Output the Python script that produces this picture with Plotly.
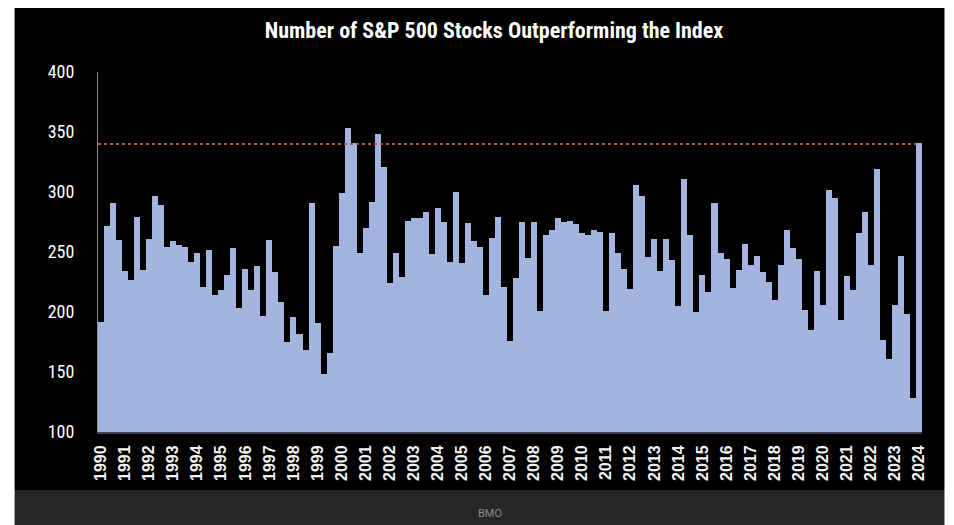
import plotly.graph_objects as go

start_year = 1990
end_year = 2024
# Quarterly count of S&P 500 stocks outperforming the index (1990 Q1 .. 2024 Q1)
values = [
    192, 272, 291, 260, 234, 227, 279, 235, 261, 297, 289, 254,
    259, 256, 254, 242, 249, 221, 252, 214, 218, 231, 253, 203,
    236, 218, 238, 197, 260, 233, 208, 175, 196, 182, 168, 291,
    191, 148, 166, 255, 299, 353, 341, 249, 270, 292, 348, 321,
    224, 249, 229, 276, 278, 278, 283, 248, 287, 275, 242, 300,
    241, 274, 259, 254, 214, 262, 279, 221, 176, 228, 275, 245,
    275, 201, 264, 268, 278, 275, 276, 273, 266, 264, 268, 267,
    201, 266, 249, 236, 219, 306, 297, 246, 261, 234, 261, 243,
    205, 311, 264, 200, 231, 217, 291, 249, 244, 220, 235, 257,
    239, 247, 233, 225, 210, 239, 268, 253, 244, 202, 185, 234,
    206, 302, 295, 193, 230, 218, 266, 283, 239, 319, 177, 161,
    206, 247, 198, 128, 341,
]
reference_level = 340
y_ticks = [100, 150, 200, 250, 300, 350, 400]
year_labels = [str(y) for y in range(start_year, end_year + 1)]

categories = [f"{start_year + i // 4} Q{i % 4 + 1}" for i in range(len(values))]
tick_cats = [f"{y} Q1" for y in year_labels]

# page is 954x525; the browser puts the figure 8px in from the top-left
OFF = 8
W, H = 954 - OFF, 525 - OFF
# plot area in page pixels
PL, PR, PT, PB = 97.5, 922.5, 72, 432
ML, MR, MT, MB = PL - OFF, W - (PR - OFF), PT - OFF, H - (PB - OFF)
pw = W - ML - MR
ph = H - MT - MB

def px_x(x):
    return (x - OFF - ML) / pw

def px_y(y):
    return (H - MB - (y - OFF)) / ph

BAR = "#a3b4de"
FONT = "Liberation Sans Narrow, Roboto Condensed, DejaVu Sans Condensed, Arial Narrow, sans-serif"

fig = go.Figure()
fig.add_trace(go.Bar(
    x=categories, y=values,
    marker=dict(color=BAR, line=dict(width=0)),
    hoverinfo="x+y",
))

shapes = [
    dict(type="rect", xref="paper", yref="paper", layer="below",
         x0=px_x(14), x1=px_x(945), y0=px_y(490), y1=px_y(8),
         fillcolor="#000000", line=dict(width=0)),
    dict(type="rect", xref="paper", yref="paper", layer="below",
         x0=px_x(14), x1=px_x(945), y0=px_y(526), y1=px_y(490),
         fillcolor="#262626", line=dict(width=0)),
    dict(type="line", xref="paper", yref="y", layer="above",
         x0=0, x1=px_x(917), y0=reference_level, y1=reference_level,
         line=dict(color="#b8553f", width=2, dash="dot")),
]

fig.update_layout(
    width=W, height=H,
    margin=dict(l=ML, r=MR, t=MT, b=MB, pad=0),
    paper_bgcolor="#ffffff",
    plot_bgcolor="rgba(0,0,0,0)",
    bargap=0,
    showlegend=False,
    shapes=shapes,
    font=dict(family=FONT, color="#ffffff"),
    title=dict(
        text="<b>Number of S&P 500 Stocks Outperforming the Index</b>",
        x=(494 - OFF) / W, xanchor="center", xref="container",
        y=1 - (30 - OFF) / H, yanchor="middle", yref="container",
        font=dict(family=FONT, size=22, color="#ffffff"),
    ),
    xaxis=dict(
        type="category",
        tickmode="array", tickvals=tick_cats, ticktext=year_labels,
        tickangle=-90,
        tickfont=dict(family="Liberation Sans, Arial, sans-serif", size=16, color="#f2f2f2", weight="bold"),
        showgrid=False, zeroline=False,
        showline=True, linecolor="#3b4258", linewidth=2,
        ticks="", ticklabelstandoff=5,
    ),
    yaxis=dict(
        range=[100, 400],
        tickmode="array", tickvals=y_ticks,
        tickfont=dict(family=FONT, size=18, color="#ffffff"),
        showgrid=False, zeroline=False,
        showline=True, linecolor="#8a8a8a", linewidth=1,
        ticks="", ticklabelstandoff=19,
    ),
    annotations=[
        dict(text="BMO", xref="paper", yref="paper",
             x=px_x(490), y=px_y(513), xanchor="center", yanchor="middle",
             showarrow=False, font=dict(family="Roboto, sans-serif", size=11, color="#8c8c8c")),
    ],
)

fig.write_html("out.html")
